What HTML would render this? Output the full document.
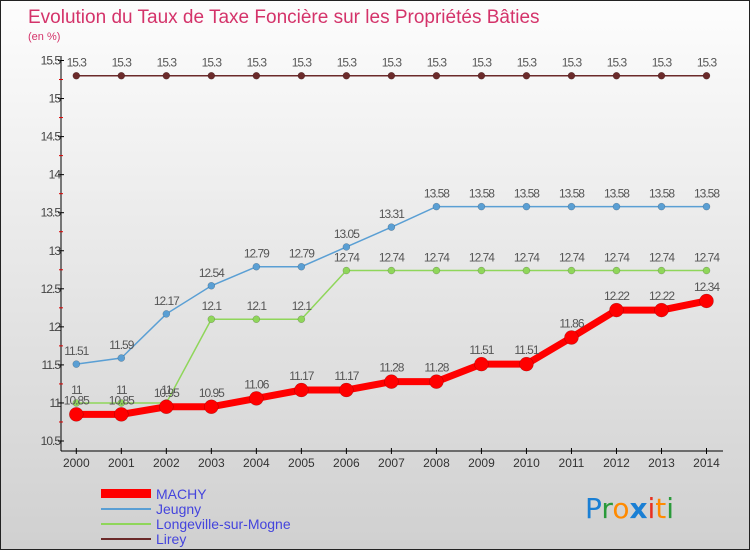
<!DOCTYPE html>
<html><head><meta charset="utf-8"><style>
body{margin:0}
#c{position:relative;width:750px;height:550px;overflow:hidden;background:linear-gradient(#fdfdfd,#d0d0d0);box-sizing:border-box;border:1px solid #222;font-family:"Liberation Sans",sans-serif}
</style></head><body>
<div id="c">
<svg id="s" width="750" height="550" style="position:absolute;left:0;top:0">
<text x="27" y="22" font-size="19" fill="#d4336a">Evolution du Taux de Taxe Foncière sur les Propriétés Bâties</text>
<text x="27" y="39" font-size="11" fill="#d4336a">(en %)</text>
<g id="axes"></g><g id="series"></g>
<g>
<rect x="100" y="488" width="50" height="9" fill="#f00"/>
<text x="155" y="498" font-size="14" fill="#4444dd">MACHY</text>
<rect x="100" y="507" width="50" height="2" fill="#5a9fd4"/>
<text x="155" y="513" font-size="14" fill="#4444dd">Jeugny</text>
<rect x="100" y="522" width="50" height="2" fill="#8fd65a"/>
<text x="155" y="528" font-size="14" fill="#4444dd">Longeville-sur-Mogne</text>
<rect x="100" y="537" width="50" height="2" fill="#6b2a2a"/>
<text x="155" y="543" font-size="14" fill="#4444dd">Lirey</text>
</g>
<text x="584" y="517" font-size="28" font-family="'DejaVu Sans',sans-serif"><tspan fill="#1a7fd4">P</tspan><tspan fill="#2a9a3a">r</tspan><tspan fill="#ff8a00">o</tspan><tspan fill="#1a7fd4" font-weight="bold">x</tspan><tspan fill="#e83020">i</tspan><tspan fill="#ff8a00">t</tspan><tspan fill="#2a9a3a">i</tspan></text>
</svg>
</div>
<script>
const years=[2000,2001,2002,2003,2004,2005,2006,2007,2008,2009,2010,2011,2012,2013,2014];
const yTicks=[10.5,11,11.5,12,12.5,13,13.5,14,14.5,15,15.5];
const machy=[10.85,10.85,10.95,10.95,11.06,11.17,11.17,11.28,11.28,11.51,11.51,11.86,12.22,12.22,12.34];
const jeugny=[11.51,11.59,12.17,12.54,12.79,12.79,13.05,13.31,13.58,13.58,13.58,13.58,13.58,13.58,13.58];
const longeville=[11,11,11,12.1,12.1,12.1,12.74,12.74,12.74,12.74,12.74,12.74,12.74,12.74,12.74];
const lirey=[15.3,15.3,15.3,15.3,15.3,15.3,15.3,15.3,15.3,15.3,15.3,15.3,15.3,15.3,15.3];
const NS="http://www.w3.org/2000/svg";
const xs=i=>75.3+i*(705.5-75.3)/(years.length-1);
const ys=v=>440-(v-10.5)*76.1;
function mk(t,a,p){const e=document.createElementNS(NS,t);for(const k in a)e.setAttribute(k,a[k]);p.appendChild(e);return e;}
const ax=document.getElementById('axes');
let yl=mk('line',{x1:60,y1:55,x2:60,y2:450,stroke:'#000'},ax);


let xl=mk('line',{x1:60,y1:450,x2:722,y2:450,stroke:'#000'},ax);


yTicks.forEach((v,i)=>{const y=ys(v);
mk('line',{x1:57,y1:y,x2:63,y2:y,stroke:'#000'},ax);
if(i<yTicks.length-1)mk('line',{x1:58,y1:ys(v+0.25),x2:62,y2:ys(v+0.25),stroke:'#d00'},ax);
const t=mk('text',{x:59,y:y+4,'font-size':12,'text-anchor':'end',fill:'#444','letter-spacing':'-1'},ax);t.textContent=String(v);

});
years.forEach((yr,i)=>{const x=xs(i);
mk('line',{x1:x,y1:447,x2:x,y2:453,stroke:'#000'},ax);
const t=mk('text',{x:x,y:466,'font-size':12,'text-anchor':'middle',fill:'#333'},ax);t.textContent=yr;

});
const sg=document.getElementById('series');
function series(name,data,color,w,r,dy){
const g=mk('g',{},sg);


mk('polyline',{points:data.map((v,i)=>xs(i)+','+ys(v)).join(' '),fill:'none',stroke:color,'stroke-width':w},g);
data.forEach((v,i)=>{const c=mk('circle',{cx:xs(i),cy:ys(v),r:r,fill:color,stroke:'rgba(0,0,0,0.3)','stroke-width':0.5},g);


const t=mk('text',{x:xs(i),y:ys(v)+dy,'font-size':12,'text-anchor':'middle',fill:'#555','letter-spacing':'-1'},g);t.textContent=String(v);

});}
series('lirey',lirey,'#6b2a2a',1.5,3.5,-9);
series('jeugny',jeugny,'#5a9fd4',1.5,3.5,-9);
series('longeville',longeville,'#8fd65a',1.5,3.5,-9);
series('machy',machy,'#f00',7,7,-10);
</script>
</body></html>
